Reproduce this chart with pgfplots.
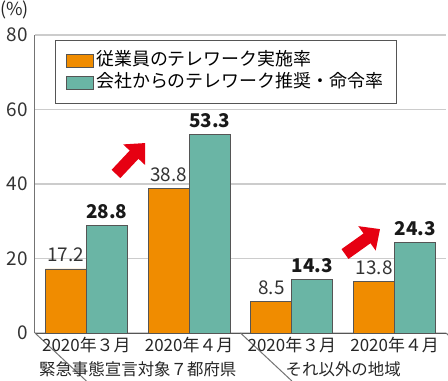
\documentclass[border=0pt]{standalone}
\usepackage{pgfplots}
\pgfplotsset{compat=1.18}
\usepackage{fontspec}
\setmainfont{Noto Sans CJK JP}
\usetikzlibrary{arrows.meta}
\definecolor{orangebar}{HTML}{F08C00}
\definecolor{tealbar}{HTML}{6AB5A5}
\definecolor{arrowred}{HTML}{E60012}
\definecolor{gridgray}{HTML}{CCCCCC}
\definecolor{edgegray}{HTML}{555555}
\begin{document}
\begin{tikzpicture}[x=1bp,y=1bp]
\useasboundingbox (-35,-47) rectangle (413,333);
\begin{axis}[
  at={(0,0)}, anchor=south west,
  scale only axis, width=411bp, height=298bp,
  xmin=-0.5, xmax=3.5, ymin=0, ymax=80,
  ytick={0,20,40,60,80},
  xtick={0,1,2,3}, xticklabels={},
  major tick length=0pt,
  ymajorgrids, grid style={draw=gridgray, line width=1.2bp},
  axis x line*=bottom, axis y line*=left,
  x axis line style={draw=edgegray, line width=1bp, -},
  y axis line style={draw=black!55, line width=1bp, -},
  yticklabel style={font=\fontsize{19}{22}\selectfont, text=black!80, inner sep=0pt, xshift=-7bp},
  /pgf/number format/assume math mode=true,
  ybar=0pt, bar width=41bp,
  legend style={at={(0.0487,0.983)}, anchor=north west, draw=edgegray, line width=0.8bp,
    inner xsep=11bp, inner ysep=10bp, font=\fontsize{18}{21}\selectfont, row sep=0pt,
    nodes={inner sep=2bp, text height=13.5bp, text depth=4bp},
    /tikz/every even column/.style={column sep=5bp}},
  legend cell align=left,
  legend image code/.code={\draw[#1, draw=edgegray, line width=0.8bp] (0bp,-6.5bp) rectangle (27bp,6.5bp);},
  clip=false,
]
\addplot[fill=orangebar, draw=edgegray, line width=0.8bp,
  nodes near coords, nodes near coords align={vertical},
  every node near coord/.append style={font=\fontsize{19}{22}\selectfont, text=black!80, anchor=south, inner sep=0pt, yshift=6.5bp},
  /pgf/number format/.cd, fixed, fixed zerofill, precision=1, assume math mode=true]
  coordinates {(0,17.2) (1,38.8) (2,8.5) (3,13.8)};
\addlegendentry{従業員のテレワーク実施率}
\addplot[fill=tealbar, draw=edgegray, line width=0.8bp,
  nodes near coords, nodes near coords align={vertical},
  every node near coord/.append style={font=\bfseries\fontsize{19}{22}\selectfont, text=black!90, anchor=south, inner sep=0pt, yshift=6.5bp},
  /pgf/number format/.cd, fixed, fixed zerofill, precision=1, assume math mode=true]
  coordinates {(0,28.8) (1,53.3) (2,14.3) (3,24.3)};
\addlegendentry{会社からのテレワーク推奨・命令率}
% arrows
\draw[arrowred, line width=12bp, -{Triangle[length=16bp,width=29bp]}] (axis cs:0.288,42.7) -- (axis cs:0.571,51.0);
\draw[arrowred, line width=12bp, -{Triangle[length=16bp,width=29bp]}] (axis cs:2.517,21.2) -- (axis cs:2.858,27.9);
% label box
\draw[black!55, line width=1bp] (rel axis cs:0,0) -- ++(0,-48bp);
\draw[black!55, line width=1bp] (axis cs:1.5,0) -- ++(0,-48bp);
\draw[black!55, line width=1bp] (rel axis cs:1,0) -- ++(0,-48bp);
% category labels
\node[font=\fontsize{17}{20}\selectfont, text=black!85, inner sep=0pt, yshift=-12bp] at (axis cs:0,0) {2020年３月};
\node[font=\fontsize{17}{20}\selectfont, text=black!85, inner sep=0pt, yshift=-12bp] at (axis cs:1,0) {2020年４月};
\node[font=\fontsize{17}{20}\selectfont, text=black!85, inner sep=0pt, yshift=-12bp] at (axis cs:2,0) {2020年３月};
\node[font=\fontsize{17}{20}\selectfont, text=black!85, inner sep=0pt, yshift=-12bp] at (axis cs:3,0) {2020年４月};
\node[font=\fontsize{16.5}{20}\selectfont, text=black!85, inner sep=0pt, yshift=-36bp] at (axis cs:0.5,0) {緊急事態宣言対象７都府県};
\node[font=\fontsize{16.5}{20}\selectfont, text=black!85, inner sep=0pt, yshift=-36bp] at (axis cs:2.5,0) {それ以外の地域};
\node[font=\fontsize{18}{20}\selectfont, text=black!85, inner sep=0pt, anchor=west, xshift=-35bp, yshift=25bp] at (rel axis cs:0,1) {(\%)};
\end{axis}
\end{tikzpicture}
\end{document}
